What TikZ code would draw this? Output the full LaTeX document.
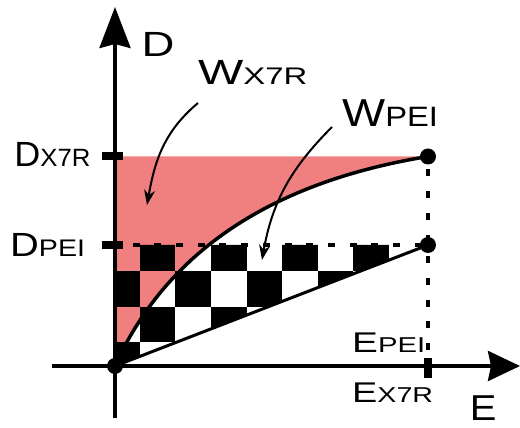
\documentclass[tikz,border=0pt]{standalone}
\usepackage{graphicx,xcolor}
\usepackage{fontspec}
\setmainfont{Liberation Sans}
\usepackage{tikz}
\usetikzlibrary{arrows.meta}
\definecolor{wred}{RGB}{240,128,128}
\newcommand\lblsize[1]{\fontsize{#1}{#1}\selectfont}

\begin{document}
\begin{tikzpicture}[x=1pt, y=1pt, >=Stealth,
    axis/.style={line width=3.5pt},
    tick/.style={line width=7.5pt},
    curve/.style={line width=3.5pt, line join=round},
    dashline/.style={line width=3.5pt, dash pattern=on 7pt off 14.7pt},
    note/.style={line width=2pt, -{Stealth[length=15pt, width=11pt]}},
    dot/.style={circle, fill=black, inner sep=0pt, minimum size=16pt},
    lab/.style={inner sep=0pt, anchor=base west}]
  \useasboundingbox (-115,-62) rectangle (405,366);
  % shaded area left of the curve
  \fill[wred] (0,0) .. controls (45,100) and (138,181) .. (313,209.5) -- (0,209.5) -- cycle;
  % checkerboard under the PEI level
  \begin{scope}
    \clip (0,0) -- (313,121) -- (0,121) -- cycle;
    \foreach \j in {0,...,3}
      \foreach \i in {0,2,...,8}
        \fill ({-10.5+35.5*(\i+mod(\j,2))},{-12+35.5*\j}) rectangle ++(35.5,35.5);
  \end{scope}
  % points
  \node[dot] (p0) at (0,0) {};
  \node[dot] (px7r) at (313,209.5) {};
  \node[dot] (ppei) at (313,121) {};
  % dashed levels
  \draw[dashline, dash phase=8.7pt] (px7r.center) -- (px7r.center |- p0.center);
  \draw[dashline, dash phase=4pt] (p0.center |- ppei.center) -- (ppei.center);
  % curve and straight line
  \draw[curve] (p0.center) .. controls (45,100) and (138,181) .. (px7r.center);
  \draw[line width=3pt] (p0.center) -- (ppei.center);
  % axes
  \draw[axis, -{Stealth[length=41pt, width=31pt, inset=4pt]}] (0,-52) -- (0,359);
  \draw[axis, -{Stealth[length=32pt, width=30pt, inset=3pt]}] (-63,0) -- (405,0);
  % ticks
  \draw[tick] (-13,210) -- (8,210);
  \draw[tick] (-13,121) -- (8,121);
  \draw[line width=8pt] (313,-12) -- (313,8);
  % labels
  \node[lab] (dlab) at (26.4,309) {\scalebox{1.3}[1]{\lblsize{35}D}};
  \node[lab] (elab) at (354.7,-55) {\scalebox{1.11}[1]{\lblsize{36}E}};
  \node[lab] (wx7r) at (83,281) {\scalebox{1.37}[1]{\lblsize{35}W\lblsize{24}X7R}};
  \node[lab] (wpei) at (227,239) {\scalebox{1.17}[1]{\lblsize{39}W\lblsize{28}PEI}};
  \node[lab] (dx7r) at (-100.8,199) {\scalebox{1.03}[1]{\lblsize{35}D\lblsize{25}X7R}};
  \node[lab] (dpei) at (-105,109) {\scalebox{1.19}[1]{\lblsize{33.5}D\lblsize{24}PEI}};
  \node[lab] (epei) at (237,13) {\scalebox{1.36}[1]{\lblsize{28.5}E\lblsize{21.5}PEI}};
  \node[lab] (ex7r) at (237,-37) {\scalebox{1.33}[1]{\lblsize{28.5}E\lblsize{21.5}X7R}};
  % pointers
  \coordinate (tx7r) at (32,161);
  \coordinate (tpei) at (147,106);
  \draw[note] ([yshift=-18pt]wx7r.base west) to[out=220, in=80] (tx7r);
  \draw[note] ([xshift=-10pt]wpei.base west) to[out=225, in=80] (tpei);
\end{tikzpicture}
\end{document}
